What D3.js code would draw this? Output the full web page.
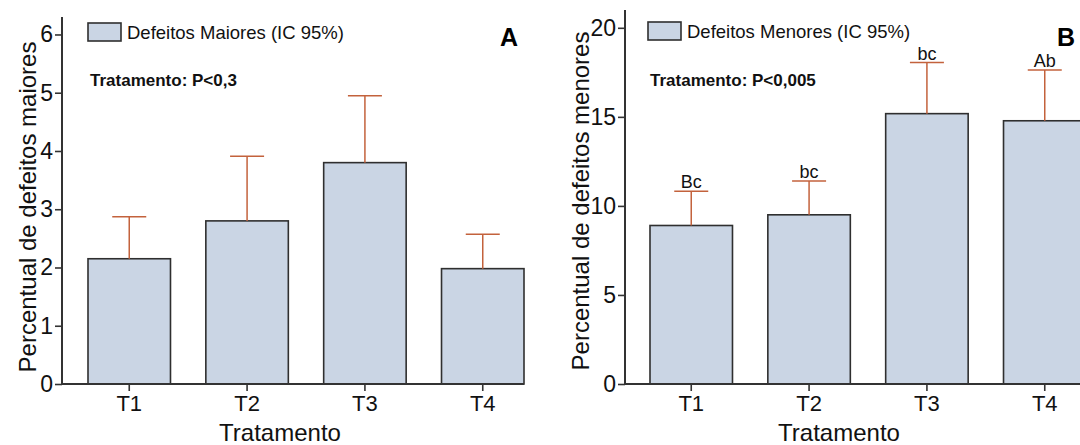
<!DOCTYPE html>
<html><head><meta charset="utf-8">
<script src="https://cdn.jsdelivr.net/npm/d3@7"></script>
<style>body{margin:0;background:#fff}svg{display:block;font-family:Arial,"Liberation Sans",sans-serif}</style>
</head><body>
<svg id="c" width="1080" height="445"></svg>
<script>
const categories = ["T1","T2","T3","T4"];
const maioresMean = [2.15, 2.80, 3.80, 1.98];
const maioresUpper = [2.87, 3.91, 4.95, 2.57];
const menoresMean = [8.90, 9.50, 15.18, 14.78];
const menoresUpper = [10.82, 11.40, 18.05, 17.63];
const menoresLetters = ["Bc","bc","bc","Ab"];
const ticksA = [0,1,2,3,4,5,6];
const ticksB = [0,5,10,15,20];

const svg = d3.select("#c");
const BAR_FILL = "#cad5e4", BAR_STROKE = "#2f2f2f", ERR = "#c3623c", AX = "#333";
const FF = "Arial, 'Liberation Sans', sans-serif";

function panel(o){
  const g = svg.append("g");
  const x = d3.scaleBand().domain(categories).range([o.x0, o.x1]).paddingInner(0.3).paddingOuter(0);
  const y = d3.scaleLinear().domain([0, o.ymax]).range([o.base, o.top]);
  g.selectAll("rect.bar").data(categories).join("rect")
    .attr("x", d => x(d)).attr("width", x.bandwidth())
    .attr("y", (d,i) => y(o.mean[i])).attr("height", (d,i) => y(0) - y(o.mean[i]))
    .attr("fill", BAR_FILL).attr("stroke", BAR_STROKE).attr("stroke-width", 1.6);
  const cx = d => x(d) + x.bandwidth()/2;
  g.selectAll("line.ev").data(categories).join("line")
    .attr("x1", cx).attr("x2", cx)
    .attr("y1", (d,i) => y(o.mean[i])).attr("y2", (d,i) => y(o.upper[i]))
    .attr("stroke", ERR).attr("stroke-width", 1.5);
  g.selectAll("line.eh").data(categories).join("line")
    .attr("x1", d => cx(d) - 17).attr("x2", d => cx(d) + 17)
    .attr("y1", (d,i) => y(o.upper[i])).attr("y2", (d,i) => y(o.upper[i]))
    .attr("stroke", ERR).attr("stroke-width", 1.5);
  if (o.letters) {
    g.selectAll("text.lt").data(categories).join("text")
      .attr("x", cx).attr("y", (d,i) => y(o.upper[i]) - 3)
      .attr("text-anchor","middle").attr("font-size", 18).attr("fill","#111")
      .text((d,i) => o.letters[i]);
  }
  const ya = g.append("g").attr("transform", `translate(${o.ax},0)`)
    .call(d3.axisLeft(y).tickValues(o.ticks).tickFormat(d3.format("d")).tickSize(7).tickSizeOuter(0).tickPadding(2));
  ya.select(".domain").remove();
  ya.selectAll("line").attr("stroke", AX).attr("stroke-width", 1.6);
  ya.selectAll("text").attr("font-size", 23).attr("fill","#111").attr("font-family", FF);
  g.append("line").attr("x1", o.ax).attr("x2", o.ax).attr("y1", o.axTop).attr("y2", o.base)
    .attr("stroke", AX).attr("stroke-width", 2);
  const xa = g.append("g").attr("transform", `translate(0,${o.base})`)
    .call(d3.axisBottom(x).tickSize(7).tickSizeOuter(0).tickPadding(4));
  xa.select(".domain").remove();
  xa.selectAll("line").attr("stroke", AX).attr("stroke-width", 1.6);
  xa.selectAll("text").attr("font-size", 22).attr("fill","#111").attr("font-family", FF);
  g.append("line").attr("x1", o.ax).attr("x2", o.axRight).attr("y1", o.base).attr("y2", o.base)
    .attr("stroke", AX).attr("stroke-width", 2);
  g.append("text").attr("x", o.xTitleX).attr("y", 441).attr("text-anchor","middle")
    .attr("font-size", 24).attr("fill","#111").text("Tratamento");
  g.append("text").attr("transform", `translate(${o.yTitleX},${o.yTitleY}) rotate(-90)`)
    .attr("text-anchor","middle").attr("font-size", 24).attr("fill","#111").text(o.yTitle);
  g.append("rect").attr("x", o.legX).attr("y", o.legY).attr("width", 33).attr("height", 18)
    .attr("fill", BAR_FILL).attr("stroke", BAR_STROKE).attr("stroke-width", 1.6);
  g.append("text").attr("x", o.legX + 39).attr("y", o.legY + 16).attr("font-size", 18.5)
    .attr("fill","#111").text(o.legText);
  g.append("text").attr("x", o.legX + 2).attr("y", 86).attr("font-size", 17).attr("font-weight","bold")
    .attr("fill","#111").text(o.pText);
  g.append("text").attr("x", o.letterX).attr("y", 46).attr("font-size", 25).attr("font-weight","bold")
    .attr("fill","#000").attr("text-anchor","middle").text(o.letter);
}

panel({x0:88, x1:524, ax:62, axRight:524, base:384, top:17, axTop:17, ymax:6.3,
  mean:maioresMean, upper:maioresUpper, ticks:ticksA,
  xTitleX:280, yTitleX:36, yTitleY:207, yTitle:"Percentual de defeitos maiores",
  legX:88, legY:23, legText:"Defeitos Maiores (IC 95%)", pText:"Tratamento: P<0,3",
  letter:"A", letterX:509});

panel({x0:650, x1:1086, ax:625, axRight:1090, base:384, top:10, axTop:10, ymax:21,
  mean:menoresMean, upper:menoresUpper, ticks:ticksB, letters:menoresLetters,
  xTitleX:839, yTitleX:589, yTitleY:201, yTitle:"Percentual de defeitos menores",
  legX:648, legY:22, legText:"Defeitos Menores (IC 95%)", pText:"Tratamento: P<0,005",
  letter:"B", letterX:1066});
</script>
</body></html>
